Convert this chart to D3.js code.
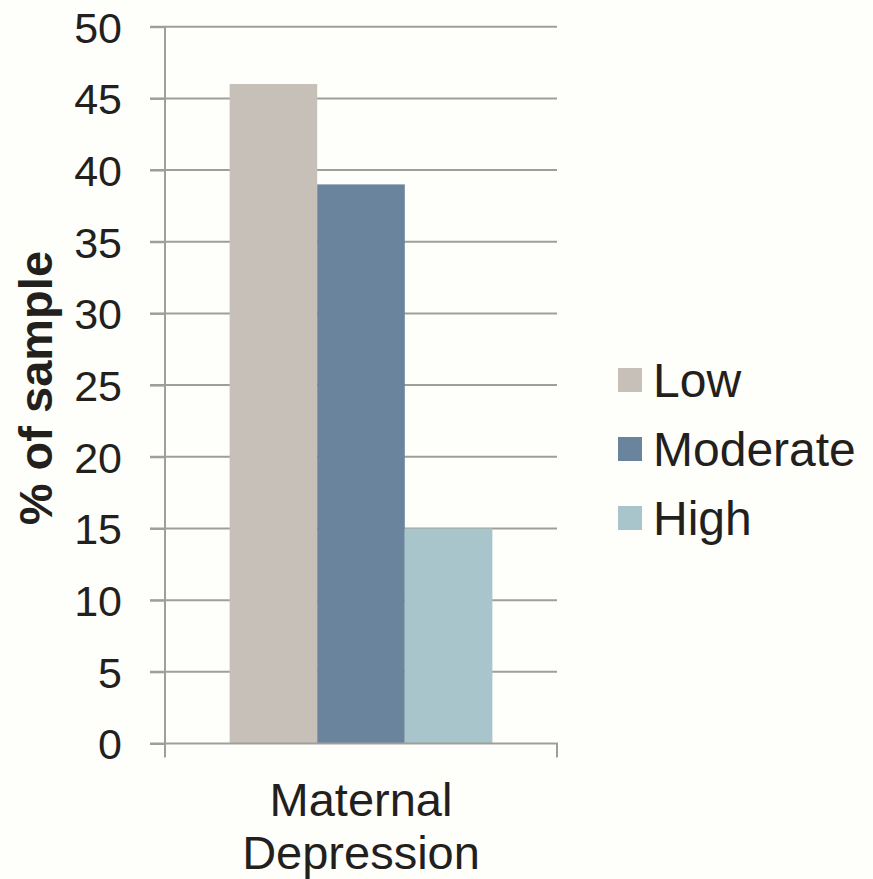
<!DOCTYPE html>
<html>
<head>
<meta charset="utf-8">
<script src="https://cdn.jsdelivr.net/npm/d3@7"></script>
<style>
  html, body { margin: 0; padding: 0; background: #fefefa; }
  svg { display: block; }
  .tick text { font-family: Arial, "Liberation Sans", sans-serif; }
</style>
</head>
<body>
<div id="chart"></div>
<script>
const categories = ['Maternal Depression'];
const series = ['Low', 'Moderate', 'High'];
const values = [46, 39, 15];
const colors = ['#c7c0b9', '#6a849e', '#a8c5cb'];
const yTicks = [0, 5, 10, 15, 20, 25, 30, 35, 40, 45, 50];

const width = 873;
const height = 879;
const gridColor = '#a09e9a';
const textColor = '#231f1d';
const font = 'Arial, "Liberation Sans", sans-serif';

const svg = d3.select('#chart').append('svg')
    .attr('width', width)
    .attr('height', height);

svg.append('rect')
  .attr('width', width)
  .attr('height', height)
  .attr('fill', '#fefefa');

const plotLeft = 165;
const plotRight = 557;
const plotTop = 26.7;
const plotBottom = 743.5;

const scaleY = d3.scaleLinear()
  .domain([0, 50])
  .range([plotBottom, plotTop]);

const scaleX0 = d3.scaleBand()
  .domain(categories)
  .range([plotLeft, plotRight])
  .paddingInner(0)
  .paddingOuter(0.246);

const scaleX1 = d3.scaleBand()
  .domain(series)
  .range([0, scaleX0.bandwidth()])
  .padding(0);

// gridlines (with the left tick stub)
svg.append('g')
  .selectAll('line')
  .data(yTicks.filter(t => t > 0))
  .enter()
  .append('line')
    .attr('x1', plotLeft - 15)
    .attr('x2', plotRight)
    .attr('y1', d => scaleY(d))
    .attr('y2', d => scaleY(d))
    .attr('stroke', gridColor)
    .attr('stroke-width', 2);

// bars
svg.append('g')
  .selectAll('g')
  .data(categories)
  .enter()
  .append('g')
    .attr('transform', d => `translate(${scaleX0(d)},0)`)
  .selectAll('rect')
  .data(() => series.map((s, i) => ({ s, v: values[i], c: colors[i] })))
  .enter()
  .append('rect')
    .attr('x', d => scaleX1(d.s))
    .attr('width', scaleX1.bandwidth())
    .attr('y', d => scaleY(d.v))
    .attr('height', d => plotBottom - scaleY(d.v))
    .attr('fill', d => d.c);

// y axis
const yAxis = d3.axisLeft(scaleY)
  .tickValues(yTicks)
  .tickSize(15)
  .tickPadding(28)
  .tickFormat(d3.format('d'));

const yG = svg.append('g')
  .attr('transform', `translate(${plotLeft},0)`)
  .call(yAxis);

yG.select('.domain')
  .attr('stroke', gridColor)
  .attr('stroke-width', 2)
  .attr('d', `M0,${plotTop}V${plotBottom + 14}`);

yG.selectAll('.tick line')
  .attr('stroke', gridColor)
  .attr('stroke-width', 2);

yG.selectAll('.tick text')
  .attr('fill', textColor)
  .attr('font-size', 43)
  .attr('dy', '0.36em');

// x axis baseline and end ticks
const xG = svg.append('g');
xG.append('path')
  .attr('d', `M${plotLeft - 15},${plotBottom}H${plotRight}V${plotBottom + 14}`)
  .attr('fill', 'none')
  .attr('stroke', gridColor)
  .attr('stroke-width', 2);

// category label
const catLabel = svg.append('g')
  .selectAll('text')
  .data(categories)
  .enter()
  .append('text')
    .attr('x', d => scaleX0(d) + scaleX0.bandwidth() / 2)
    .attr('y', 816)
    .attr('text-anchor', 'middle')
    .attr('font-family', font)
    .attr('font-size', 47)
    .attr('fill', textColor);

catLabel.append('tspan')
  .attr('x', d => scaleX0(d) + scaleX0.bandwidth() / 2)
  .text(d => d.split(' ')[0]);
catLabel.append('tspan')
  .attr('x', d => scaleX0(d) + scaleX0.bandwidth() / 2)
  .attr('dy', 53)
  .text(d => d.split(' ')[1]);

// y axis title
svg.append('text')
  .attr('transform', `translate(52, ${(plotTop + plotBottom) / 2 + 3}) rotate(-90)`)
  .attr('text-anchor', 'middle')
  .attr('font-family', font)
  .attr('font-weight', 'bold')
  .attr('font-size', 47)
  .attr('fill', textColor)
  .text('% of sample');

// legend
const legend = svg.append('g')
  .attr('transform', 'translate(618, 380)');

const legendItems = legend.selectAll('g')
  .data(series)
  .enter()
  .append('g')
    .attr('transform', (d, i) => `translate(0, ${i * 69})`);

legendItems.append('rect')
  .attr('x', 0)
  .attr('y', -12)
  .attr('width', 24)
  .attr('height', 24)
  .attr('fill', (d, i) => colors[i]);

legendItems.append('text')
  .attr('x', 35)
  .attr('y', 0)
  .attr('dy', '0.355em')
  .attr('font-family', font)
  .attr('font-size', 48)
  .attr('fill', textColor)
  .text(d => d);
</script>
</body>
</html>
